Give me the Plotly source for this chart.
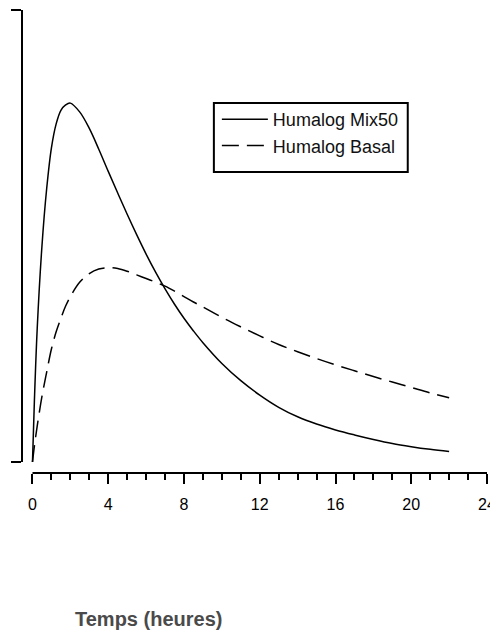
import plotly.graph_objects as go

# Time (hours)
hours = [0, 0.1, 0.25, 0.5, 0.75, 1.0, 1.25, 1.5, 1.75, 2.0, 2.5, 3.0, 3.5, 4.0, 4.5,
         5.0, 5.5, 6.0, 6.5, 7.0, 7.5, 8.0, 8.5, 9.0, 10.0, 11.0, 12.0, 13.0, 14.0, 15.0,
         16.0, 17.0, 18.0, 19.0, 20.0, 21.0, 22.0]

# Relative insulin activity (fraction of the y-axis height)
mix50 = [0, 0.135, 0.296, 0.478, 0.605, 0.695, 0.748, 0.778, 0.790, 0.794, 0.774, 0.738,
         0.692, 0.643, 0.595, 0.548, 0.503, 0.460, 0.420, 0.383, 0.349, 0.318, 0.290,
         0.264, 0.218, 0.180, 0.148, 0.121, 0.100, 0.084, 0.071, 0.060, 0.050, 0.041,
         0.034, 0.028, 0.023]

basal = [0, 0.035, 0.080, 0.145, 0.199, 0.250, 0.288, 0.318, 0.345, 0.366, 0.398, 0.417,
         0.427, 0.430, 0.428, 0.422, 0.414, 0.406, 0.398, 0.389, 0.378, 0.366, 0.354,
         0.343, 0.320, 0.299, 0.279, 0.260, 0.244, 0.229, 0.215, 0.202, 0.189, 0.177,
         0.165, 0.153, 0.142]

series_names = ["Humalog Mix50", "Humalog Basal"]
x_ticks = [0, 4, 8, 12, 16, 20, 24]
x_title = "Temps (heures)"

fig = go.Figure()
fig.add_trace(go.Scatter(x=hours, y=mix50, mode="lines", name=series_names[0],
                         legendgroup="a",
                         line=dict(color="black", width=1.5, shape="spline")))
fig.add_trace(go.Scatter(x=hours, y=basal, mode="lines", name=series_names[1],
                         legendgroup="b",
                         line=dict(color="black", width=1.5, dash="17px,8px", shape="spline")))

# The page body adds an 8px offset; figure px = screen px - 8.
# plot area (figure px): x 14..479.3, y 2..465
FW, FH = 490, 624
PW, PH = 465.3, 463.0
def px(X):
    return (X - 14) / PW
def py(Y):
    return (465 - Y) / PH

fig.update_layout(
    width=FW, height=FH,
    margin=dict(l=14, r=FW - 14 - PW, t=2, b=FH - 2 - PH),
    plot_bgcolor="white", paper_bgcolor="white",
    font=dict(family="Liberation Sans, Arial, sans-serif", color="black"),
    showlegend=True,
    legend=dict(x=px(209), y=py(93), xanchor="left", yanchor="top",
                borderwidth=0, bgcolor="rgba(0,0,0,0)",
                font=dict(size=18, color="#111"), tracegroupgap=0,
                itemwidth=46),
    xaxis=dict(range=[-0.554, 24], tickvals=x_ticks, ticktext=[str(v) for v in x_ticks],
               ticks="outside", ticklen=10, tickwidth=2, tickcolor="black",
               ticklabelstandoff=7, ticklabeloverflow="allow",
               minor=dict(dtick=1, ticks="outside", ticklen=6, tickwidth=2, tickcolor="black"),
               showgrid=False, zeroline=False, showline=False,
               tickfont=dict(size=16, color="black")),
    yaxis=dict(range=[-0.0243, 1.0], tickvals=[0, 1], ticks="outside", ticklen=10,
               tickwidth=2, tickcolor="black", showticklabels=False,
               showgrid=False, zeroline=False, showline=False),
    shapes=[
        dict(type="line", xref="x", yref="paper", x0=0, x1=24, y0=0, y1=0,
             line=dict(color="black", width=2)),
        dict(type="line", xref="paper", yref="y", x0=0, x1=0, y0=0, y1=1,
             line=dict(color="black", width=2)),
        dict(type="rect", xref="paper", yref="paper", x0=px(206), x1=px(400),
             y0=py(164), y1=py(95), line=dict(color="black", width=2),
             fillcolor="rgba(0,0,0,0)", layer="above"),
    ],
    annotations=[
        dict(text="<b>" + x_title + "</b>", xref="paper", yref="paper",
             x=px(141), y=py(611), xanchor="center", yanchor="middle",
             showarrow=False, font=dict(size=20, color="#4a4a4a"))
    ],
)

fig.write_html("out.html")
